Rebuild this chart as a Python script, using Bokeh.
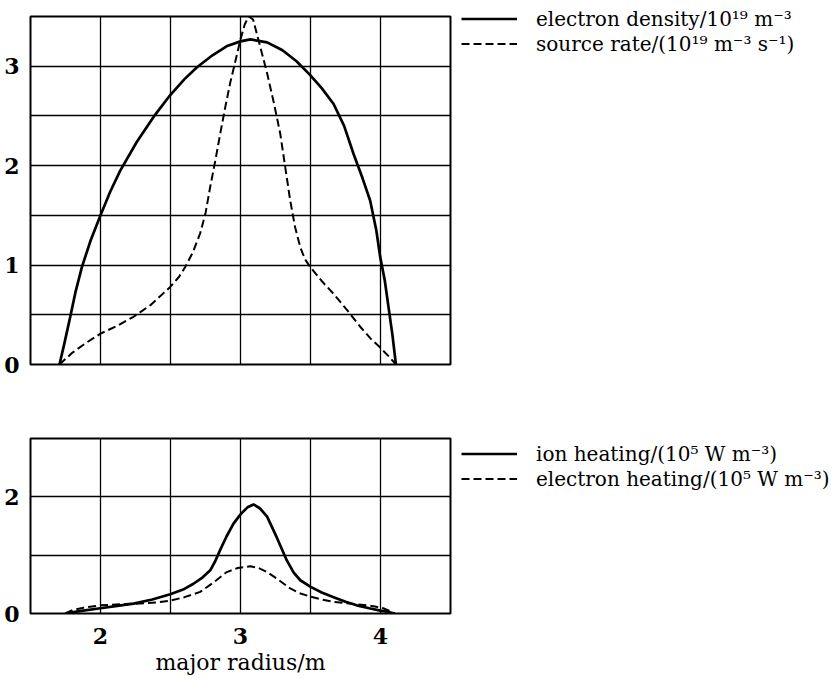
from bokeh.plotting import figure
from bokeh.layouts import column
from bokeh.models import FixedTicker, Legend, LegendItem
from bokeh.embed import file_html
from bokeh.resources import INLINE

# ---------------- data ----------------
ne_x = [1.707, 1.74, 1.784, 1.82, 1.867, 1.93, 2.0, 2.07, 2.141, 2.26, 2.379, 2.498, 2.6, 2.689,
        2.8, 2.9, 3.0, 3.07, 3.19, 3.3, 3.4, 3.498, 3.58, 3.665, 3.74, 3.807, 3.87, 3.926,
        3.97, 3.998, 4.03, 4.057, 4.085, 4.11]
ne_y = [0.0, 0.2, 0.48, 0.72, 0.98, 1.25, 1.5, 1.74, 1.95, 2.24, 2.49, 2.71, 2.87, 2.99,
        3.11, 3.2, 3.25, 3.27, 3.24, 3.16, 3.05, 2.91, 2.78, 2.62, 2.4, 2.12, 1.88, 1.65,
        1.35, 1.08, 0.85, 0.58, 0.3, 0.0]

src_x = [1.707, 1.8, 1.9, 2.0, 2.12, 2.236, 2.36, 2.498, 2.56, 2.605, 2.66, 2.712, 2.75, 2.784,
         2.82, 2.855, 2.89, 2.926, 2.965, 3.0, 3.03, 3.059, 3.09, 3.14, 3.19, 3.24, 3.284,
         3.32, 3.355, 3.39, 3.427, 3.46, 3.498, 3.58, 3.665, 3.76, 3.855, 3.93, 3.998, 4.06, 4.11]
src_y = [0.0, 0.12, 0.22, 0.31, 0.39, 0.48, 0.6, 0.78, 0.88, 0.98, 1.13, 1.32, 1.52, 1.79,
         2.05, 2.32, 2.58, 2.83, 3.06, 3.27, 3.42, 3.5, 3.47, 3.2, 2.93, 2.62, 2.32,
         1.98, 1.65, 1.38, 1.18, 1.06, 0.98, 0.84, 0.71, 0.55, 0.38, 0.26, 0.17, 0.08, 0.0]

ion_x = [1.748, 1.85, 2.0, 2.12, 2.236, 2.37, 2.498, 2.59, 2.664, 2.73, 2.784, 2.82, 2.855, 2.9,
         2.95, 3.0, 3.05, 3.093, 3.14, 3.19, 3.26, 3.331, 3.38, 3.427, 3.498, 3.58, 3.665,
         3.75, 3.83, 3.92, 3.998, 4.05, 4.10]
ion_y = [0.0, 0.04, 0.09, 0.13, 0.17, 0.24, 0.33, 0.41, 0.51, 0.62, 0.74, 0.9, 1.09, 1.32,
         1.54, 1.7, 1.82, 1.87, 1.8, 1.66, 1.3, 0.91, 0.7, 0.57, 0.46, 0.36, 0.28,
         0.2, 0.14, 0.09, 0.05, 0.03, 0.0]

el_x = [1.748, 1.8, 1.879, 2.0, 2.14, 2.284, 2.4, 2.498, 2.6, 2.712, 2.8, 2.902, 2.98, 3.07,
        3.13, 3.19, 3.27, 3.355, 3.42, 3.498, 3.58, 3.665, 3.78, 3.903, 3.96, 4.02, 4.06, 4.10]
el_y = [0.0, 0.06, 0.1, 0.14, 0.16, 0.17, 0.19, 0.22, 0.28, 0.37, 0.52, 0.71, 0.78, 0.81,
        0.78, 0.71, 0.58, 0.43, 0.35, 0.29, 0.24, 0.2, 0.17, 0.14, 0.12, 0.09, 0.05, 0.0]

x_ticks = [2, 3, 4]
x_grid = [2.0, 2.5, 3.0, 3.5, 4.0]
top_y_ticks = [0, 1, 2, 3]
top_y_grid = [0.5, 1.0, 1.5, 2.0, 2.5, 3.0]
bot_y_ticks = [0, 2]
bot_y_grid = [1, 2]

labels_top = ["electron density/10\u00b9\u2079 m\u207b\u00b3",
              "source rate/(10\u00b9\u2079 m\u207b\u00b3 s\u207b\u00b9)"]
labels_bot = ["ion heating/(10\u2075 W m\u207b\u00b3)",
              "electron heating/(10\u2075 W m\u207b\u00b3)"]
x_label = "major radius/m"

SERIF = "DejaVu Serif"
TICK_SIZE = "22px"
LEG_SIZE = "20px"


def style(p, yticks, ygrid):
    p.outline_line_color = "black"
    p.outline_line_width = 2
    p.outline_line_alpha = 1
    p.xgrid.ticker = FixedTicker(ticks=x_grid)
    p.ygrid.ticker = FixedTicker(ticks=ygrid)
    for g in (p.xgrid, p.ygrid):
        g.grid_line_color = "black"
        g.grid_line_width = 1.3
        g.grid_line_alpha = 1
    p.yaxis.ticker = FixedTicker(ticks=yticks)
    p.yaxis.axis_line_color = None
    p.yaxis.major_tick_line_color = None
    p.yaxis.minor_tick_line_color = None
    p.yaxis.major_label_text_font = SERIF
    p.yaxis.major_label_text_font_style = "bold"
    p.yaxis.major_label_text_font_size = TICK_SIZE
    p.yaxis.major_label_text_color = "black"
    p.yaxis.major_label_standoff = 5
    p.background_fill_color = "white"
    p.border_fill_color = "white"


def make_legend(items, loc):
    lg = Legend(items=items, location=loc, orientation="vertical")
    lg.label_text_font = SERIF
    lg.label_text_font_size = LEG_SIZE
    lg.label_text_color = "black"
    lg.glyph_width = 56
    lg.glyph_height = 25
    lg.label_height = 25
    lg.spacing = 0
    lg.padding = 0
    lg.margin = 0
    lg.label_standoff = 19
    lg.border_line_color = None
    lg.background_fill_alpha = 0
    return lg


# ---------------- top panel ----------------
p1 = figure(frame_width=420, frame_height=348, x_range=(1.5, 4.5), y_range=(0, 3.5),
            output_backend="svg", toolbar_location=None,
            min_border_left=30, min_border_top=16, min_border_bottom=14, min_border_right=386)
style(p1, top_y_ticks, top_y_grid)
p1.xaxis.visible = False
r1 = p1.line(ne_x, ne_y, line_color="black", line_width=2.7)
r2 = p1.line(src_x, src_y, line_color="black", line_width=2.0, line_dash="8 4")
lg1 = make_legend([LegendItem(label=labels_top[0], renderers=[r1]),
                   LegendItem(label=labels_top[1], renderers=[r2])], (11, 308))
p1.add_layout(lg1, "right")

# ---------------- bottom panel ----------------
p2 = figure(frame_width=420, frame_height=175, x_range=(1.5, 4.5), y_range=(0, 3),
            output_backend="svg", toolbar_location=None,
            min_border_left=30, min_border_top=60, min_border_bottom=0, min_border_right=386)
style(p2, bot_y_ticks, bot_y_grid)
p2.xaxis.ticker = FixedTicker(ticks=x_ticks)
p2.xaxis.axis_line_color = None
p2.xaxis.major_tick_line_color = None
p2.xaxis.minor_tick_line_color = None
p2.xaxis.major_label_text_font = SERIF
p2.xaxis.major_label_text_font_style = "bold"
p2.xaxis.major_label_text_font_size = TICK_SIZE
p2.xaxis.major_label_text_color = "black"
p2.xaxis.major_label_standoff = 8
p2.xaxis.axis_label = x_label
p2.xaxis.axis_label_text_font = SERIF
p2.xaxis.axis_label_text_font_style = "normal"
p2.xaxis.axis_label_text_font_size = "22px"
p2.xaxis.axis_label_text_color = "black"
p2.xaxis.axis_label_standoff = 3
r3 = p2.line(ion_x, ion_y, line_color="black", line_width=2.7)
r4 = p2.line(el_x, el_y, line_color="black", line_width=2.0, line_dash="8 4")
lg2 = make_legend([LegendItem(label=labels_bot[0], renderers=[r3]),
                   LegendItem(label=labels_bot[1], renderers=[r4])], (11, 122))
p2.add_layout(lg2, "right")

layout = column(p1, p2, spacing=0)
open("out.html", "w").write(file_html(layout, INLINE))
